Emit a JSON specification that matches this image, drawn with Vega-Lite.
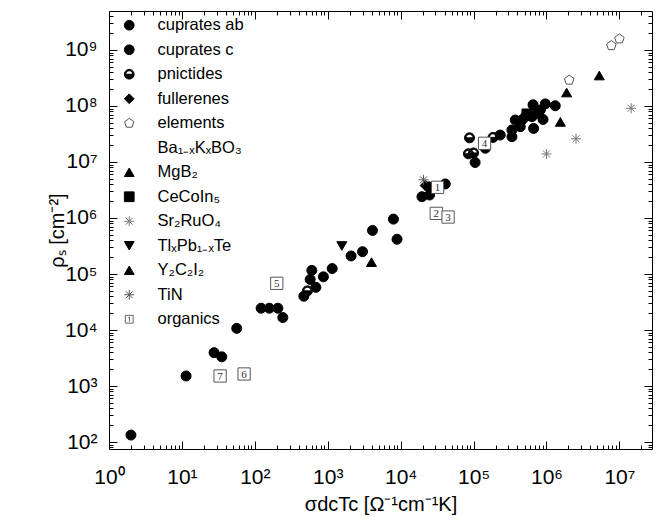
{
  "$schema": "https://vega.github.io/schema/vega-lite/v6.json",
  "width": 543,
  "height": 438,
  "autosize": {"type": "none"},
  "padding": {"left": 109, "top": 11, "right": 6, "bottom": 74},
  "background": "white",
  "config": {"font": "Liberation Sans", "view": {"stroke": "black", "strokeWidth": 1}},
  "data": {"values": [
    {"x": 2.0, "y": 133, "g": "cuprates c", "n": ""},
    {"x": 11.4, "y": 1510, "g": "cuprates c", "n": ""},
    {"x": 27.6, "y": 3940, "g": "cuprates c", "n": ""},
    {"x": 35.2, "y": 3320, "g": "cuprates c", "n": ""},
    {"x": 56.5, "y": 10700, "g": "cuprates c", "n": ""},
    {"x": 122, "y": 24500, "g": "cuprates c", "n": ""},
    {"x": 158, "y": 24500, "g": "cuprates c", "n": ""},
    {"x": 207, "y": 24500, "g": "cuprates c", "n": ""},
    {"x": 242, "y": 16700, "g": "cuprates c", "n": ""},
    {"x": 470, "y": 40000, "g": "cuprates c", "n": ""},
    {"x": 574, "y": 80000, "g": "cuprates c", "n": ""},
    {"x": 605, "y": 116000, "g": "cuprates c", "n": ""},
    {"x": 687, "y": 57700, "g": "cuprates c", "n": ""},
    {"x": 872, "y": 89000, "g": "cuprates c", "n": ""},
    {"x": 1150, "y": 125000, "g": "cuprates c", "n": ""},
    {"x": 2090, "y": 210000, "g": "cuprates c", "n": ""},
    {"x": 3000, "y": 250000, "g": "cuprates c", "n": ""},
    {"x": 4110, "y": 600000, "g": "cuprates c", "n": ""},
    {"x": 7960, "y": 955000, "g": "cuprates c", "n": ""},
    {"x": 8920, "y": 417000, "g": "cuprates c", "n": ""},
    {"x": 19600, "y": 2400000, "g": "cuprates ab", "n": ""},
    {"x": 24900, "y": 2570000, "g": "cuprates ab", "n": ""},
    {"x": 24200, "y": 3600000, "g": "cuprates ab", "n": ""},
    {"x": 40900, "y": 4050000, "g": "cuprates ab", "n": ""},
    {"x": 105000, "y": 9800000, "g": "cuprates ab", "n": ""},
    {"x": 145000, "y": 17600000, "g": "cuprates ab", "n": ""},
    {"x": 232000, "y": 30300000, "g": "cuprates ab", "n": ""},
    {"x": 336000, "y": 28300000, "g": "cuprates ab", "n": ""},
    {"x": 336000, "y": 37300000, "g": "cuprates ab", "n": ""},
    {"x": 373000, "y": 56200000, "g": "cuprates ab", "n": ""},
    {"x": 437000, "y": 42700000, "g": "cuprates ab", "n": ""},
    {"x": 461000, "y": 56200000, "g": "cuprates ab", "n": ""},
    {"x": 513000, "y": 64600000, "g": "cuprates ab", "n": ""},
    {"x": 633000, "y": 64600000, "g": "cuprates ab", "n": ""},
    {"x": 654000, "y": 105000000, "g": "cuprates ab", "n": ""},
    {"x": 666000, "y": 39800000, "g": "cuprates ab", "n": ""},
    {"x": 742000, "y": 74000000, "g": "cuprates ab", "n": ""},
    {"x": 823000, "y": 85000000, "g": "cuprates ab", "n": ""},
    {"x": 964000, "y": 109000000, "g": "cuprates ab", "n": ""},
    {"x": 897000, "y": 57500000, "g": "cuprates ab", "n": ""},
    {"x": 1320000, "y": 101000000, "g": "cuprates ab", "n": ""},
    {"x": 527, "y": 50000, "g": "pnictides", "n": ""},
    {"x": 88000, "y": 27000000, "g": "pnictides", "n": ""},
    {"x": 85000, "y": 14000000, "g": "pnictides", "n": ""},
    {"x": 100000, "y": 14500000, "g": "pnictides", "n": ""},
    {"x": 185000, "y": 27500000, "g": "pnictides", "n": ""},
    {"x": 21700, "y": 3800000, "g": "fullerenes", "n": ""},
    {"x": 2050000, "y": 290000000, "g": "elements", "n": ""},
    {"x": 7760000, "y": 1200000000, "g": "elements", "n": ""},
    {"x": 10000000, "y": 1580000000, "g": "elements", "n": ""},
    {"x": 1550000, "y": 52000000, "g": "MgB₂", "n": ""},
    {"x": 1890000, "y": 174000000, "g": "MgB₂", "n": ""},
    {"x": 5300000, "y": 350000000, "g": "MgB₂", "n": ""},
    {"x": 540000, "y": 72000000, "g": "CeCoIn₅", "n": ""},
    {"x": 1000000, "y": 13900000, "g": "Sr₂RuO₄", "n": ""},
    {"x": 2540000, "y": 26000000, "g": "Sr₂RuO₄", "n": ""},
    {"x": 14500000, "y": 91000000, "g": "Sr₂RuO₄", "n": ""},
    {"x": 1560, "y": 316000, "g": "TlₓPb₁₋ₓTe", "n": ""},
    {"x": 3980, "y": 163000, "g": "Y₂C₂I₂", "n": ""},
    {"x": 20600, "y": 4800000, "g": "TiN", "n": ""},
    {"x": 32100, "y": 3530000, "g": "organics", "n": "1"},
    {"x": 30800, "y": 1210000, "g": "organics", "n": "2"},
    {"x": 44700, "y": 1040000, "g": "organics", "n": "3"},
    {"x": 141600, "y": 21600000, "g": "organics", "n": "4"},
    {"x": 200, "y": 68200, "g": "organics", "n": "5"},
    {"x": 71.3, "y": 1640, "g": "organics", "n": "6"},
    {"x": 33.4, "y": 1510, "g": "organics", "n": "7"}
  ]},
  "resolve": {"axis": {"x": "independent", "y": "independent"}},
  "layer": [
    {
      "transform": [{"filter": "datum.g != 'organics'"}],
      "mark": {"type": "point", "filled": true, "size": 100, "strokeWidth": 1, "opacity": 1},
      "encoding": {
        "x": {"field": "x", "type": "quantitative",
          "scale": {"type": "log", "domain": [1, 28000000], "nice": false},
          "axis": {
            "orient": "bottom",
            "offset": -8,
            "domain": false,
            "values": [1,2,3,4,5,6,7,8,9,10,20,30,40,50,60,70,80,90,100,200,300,400,500,600,700,800,900,1000,2000,3000,4000,5000,6000,7000,8000,9000,10000,20000,30000,40000,50000,60000,70000,80000,90000,100000,200000,300000,400000,500000,600000,700000,800000,900000,1000000,2000000,3000000,4000000,5000000,6000000,7000000,8000000,9000000,10000000,20000000],
            "labelExpr": "abs(log(datum.value)/LN10 - round(log(datum.value)/LN10)) < 0.001 ? '10' + ['⁰','¹','²','³','⁴','⁵','⁶','⁷','⁸','⁹'][round(log(datum.value)/LN10)] : ''",
            "tickSize": 8,
            "tickDash": {"condition": {"test": "abs(log(datum.value)/LN10 - round(log(datum.value)/LN10)) < 0.001", "value": [10, 0]}, "value": [0, 4, 4, 100]},
            "labelFontSize": 21, "labelColor": "black", "labelPadding": 17, "labelFlush": false, "labelOverlap": false,
            "tickColor": "black", "grid": false,
            "title": "σdcTc [Ω⁻¹cm⁻¹K]", "titleFontSize": 20, "titleFontWeight": "normal", "titleColor": "black", "titlePadding": 7
          }},
        "y": {"field": "y", "type": "quantitative",
          "scale": {"type": "log", "domain": [75, 4970000000], "nice": false},
          "axis": {
            "orient": "left",
            "offset": -8,
            "domain": false,
            "values": [80,90,100,200,300,400,500,600,700,800,900,1000,2000,3000,4000,5000,6000,7000,8000,9000,10000,20000,30000,40000,50000,60000,70000,80000,90000,100000,200000,300000,400000,500000,600000,700000,800000,900000,1000000,2000000,3000000,4000000,5000000,6000000,7000000,8000000,9000000,10000000,20000000,30000000,40000000,50000000,60000000,70000000,80000000,90000000,100000000,200000000,300000000,400000000,500000000,600000000,700000000,800000000,900000000,1000000000,2000000000,3000000000,4000000000],
            "labelExpr": "abs(log(datum.value)/LN10 - round(log(datum.value)/LN10)) < 0.001 ? '10' + ['⁰','¹','²','³','⁴','⁵','⁶','⁷','⁸','⁹'][round(log(datum.value)/LN10)] : ''",
            "tickSize": 8,
            "tickDash": {"condition": {"test": "abs(log(datum.value)/LN10 - round(log(datum.value)/LN10)) < 0.001", "value": [10, 0]}, "value": [0, 4, 4, 100]},
            "labelFontSize": 21, "labelColor": "black", "labelPadding": 12, "labelFlush": false, "labelOverlap": false,
            "tickColor": "black", "grid": false,
            "title": "ρₛ [cm⁻²]", "titleFontSize": 20, "titleFontWeight": "normal", "titleColor": "black", "titlePadding": -3
          }},
        "shape": {"field": "g", "type": "nominal",
          "scale": {"domain": ["cuprates ab", "cuprates c", "pnictides", "fullerenes", "elements", "Ba₁₋ₓKₓBO₃", "MgB₂", "CeCoIn₅", "Sr₂RuO₄", "TlₓPb₁₋ₓTe", "Y₂C₂I₂", "TiN", "organics"],
            "range": ["circle", "circle",
              "M1,0A1,1 0 1,1 -1,0A1,1 0 1,1 1,0ZM0.72,0A0.72,0.72 0 1,0 -0.72,0A0.72,0.72 0 1,0 0.72,0ZM0.72,0A0.72,0.72 0 0,1 -0.72,0Z",
              "diamond",
              "M0,-1L0.951,-0.309L0.588,0.809L-0.588,0.809L-0.951,-0.309Z",
              "M0,0",
              "triangle-up", "square",
              "M-1,0L1,0M0,-1L0,1M-0.7,-0.7L0.7,0.7M-0.7,0.7L0.7,-0.7",
              "triangle-down", "triangle-up",
              "M-1,0L1,0M0,-1L0,1M-0.7,-0.7L0.7,0.7M-0.7,0.7L0.7,-0.7",
              "M-0.8,-0.8L0.8,-0.8L0.8,0.8L-0.8,0.8ZM0.05,-0.5L0.05,0.5M-0.2,-0.3L0.05,-0.5"]},
          "legend": {"orient": "none", "legendX": 12, "legendY": 6, "title": null, "labelFontSize": 16.5, "labelColor": "black", "symbolSize": 95, "symbolStrokeWidth": 1, "rowPadding": 7.5, "labelOffset": 20, "padding": 0, "labelLimit": 300}},
        "fill": {"field": "g", "type": "nominal",
          "scale": {"domain": ["cuprates ab", "cuprates c", "pnictides", "fullerenes", "elements", "Ba₁₋ₓKₓBO₃", "MgB₂", "CeCoIn₅", "Sr₂RuO₄", "TlₓPb₁₋ₓTe", "Y₂C₂I₂", "TiN", "organics"],
            "range": ["black", "black", "black", "black", "white", "transparent", "black", "black", "transparent", "black", "black", "transparent", "white"]},
          "legend": {"orient": "none", "legendX": 12, "legendY": 6, "title": null, "labelFontSize": 16.5, "labelColor": "black", "symbolSize": 95, "symbolStrokeWidth": 1, "rowPadding": 7.5, "labelOffset": 20, "padding": 0, "labelLimit": 300}},
        "stroke": {"field": "g", "type": "nominal",
          "scale": {"domain": ["cuprates ab", "cuprates c", "pnictides", "fullerenes", "elements", "Ba₁₋ₓKₓBO₃", "MgB₂", "CeCoIn₅", "Sr₂RuO₄", "TlₓPb₁₋ₓTe", "Y₂C₂I₂", "TiN", "organics"],
            "range": ["black", "black", "black", "black", "#555555", "transparent", "black", "black", "#777777", "black", "black", "#555555", "#666666"]},
          "legend": {"orient": "none", "legendX": 12, "legendY": 6, "title": null, "labelFontSize": 16.5, "labelColor": "black", "symbolSize": 95, "symbolStrokeWidth": 1, "rowPadding": 7.5, "labelOffset": 20, "padding": 0, "labelLimit": 300}}
      }
    },
    {
      "transform": [{"filter": "datum.g == 'organics'"}],
      "mark": {"type": "point", "shape": "square", "size": 150, "filled": true, "fill": "white", "stroke": "#555555", "strokeWidth": 1, "opacity": 1},
      "encoding": {
        "x": {"field": "x", "type": "quantitative",
          "axis": {
            "orient": "top",
            "offset": -8,
            "domain": false,
            "values": [1,2,3,4,5,6,7,8,9,10,20,30,40,50,60,70,80,90,100,200,300,400,500,600,700,800,900,1000,2000,3000,4000,5000,6000,7000,8000,9000,10000,20000,30000,40000,50000,60000,70000,80000,90000,100000,200000,300000,400000,500000,600000,700000,800000,900000,1000000,2000000,3000000,4000000,5000000,6000000,7000000,8000000,9000000,10000000,20000000],
            "labels": false,
            "tickSize": 8,
            "tickDash": {"condition": {"test": "abs(log(datum.value)/LN10 - round(log(datum.value)/LN10)) < 0.001", "value": [10, 0]}, "value": [0, 4, 4, 100]},
            "tickColor": "black", "grid": false, "title": null
          }},
        "y": {"field": "y", "type": "quantitative",
          "axis": {
            "orient": "right",
            "offset": -8,
            "domain": false,
            "values": [80,90,100,200,300,400,500,600,700,800,900,1000,2000,3000,4000,5000,6000,7000,8000,9000,10000,20000,30000,40000,50000,60000,70000,80000,90000,100000,200000,300000,400000,500000,600000,700000,800000,900000,1000000,2000000,3000000,4000000,5000000,6000000,7000000,8000000,9000000,10000000,20000000,30000000,40000000,50000000,60000000,70000000,80000000,90000000,100000000,200000000,300000000,400000000,500000000,600000000,700000000,800000000,900000000,1000000000,2000000000,3000000000,4000000000],
            "labels": false,
            "tickSize": 8,
            "tickDash": {"condition": {"test": "abs(log(datum.value)/LN10 - round(log(datum.value)/LN10)) < 0.001", "value": [10, 0]}, "value": [0, 4, 4, 100]},
            "tickColor": "black", "grid": false, "title": null
          }}
      }
    },
    {
      "transform": [{"filter": "datum.g == 'organics'"}],
      "mark": {"type": "text", "font": "Liberation Serif", "fontSize": 11, "color": "#333333", "align": "center", "baseline": "middle", "dy": 1},
      "encoding": {
        "x": {"field": "x", "type": "quantitative", "axis": null},
        "y": {"field": "y", "type": "quantitative", "axis": null},
        "text": {"field": "n"}
      }
    }
  ]
}
